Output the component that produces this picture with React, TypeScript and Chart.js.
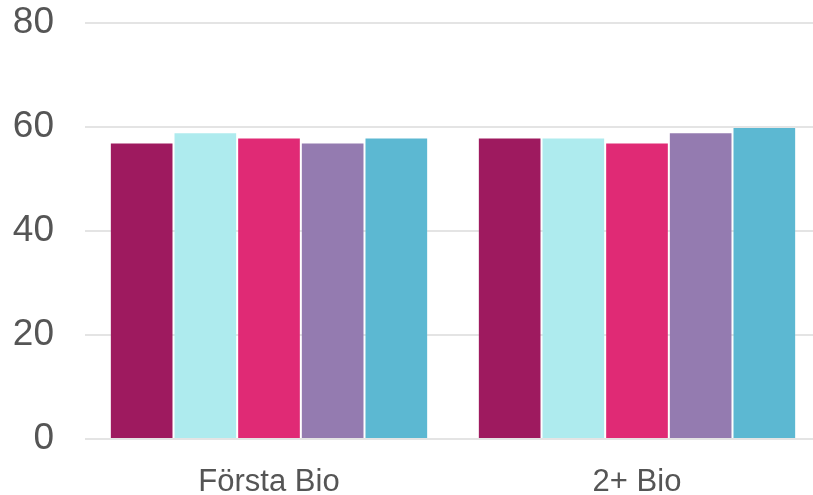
import React, { useEffect, useRef } from "react";
import { Chart, registerables } from "chart.js";

Chart.register(...registerables);

const categories = ["Första Bio", "2+ Bio"];
const series1 = [57, 58];
const series2 = [59, 58];
const series3 = [58, 57];
const series4 = [57, 59];
const series5 = [58, 60];
const seriesValues = [series1, series2, series3, series4, series5];
const seriesColors = ["#9E1A5F", "#AEEBEE", "#E02A75", "#947BB0", "#5CB8D2"];
const yTicks = [0, 20, 40, 60, 80];

export default function App() {
  const ref = useRef<HTMLCanvasElement | null>(null);

  useEffect(() => {
    if (!ref.current) return;
    const chart = new Chart(ref.current, {
      type: "bar",
      data: {
        labels: categories,
        datasets: seriesValues.map((vals, i) => ({
          label: "Serie " + (i + 1),
          data: vals,
          backgroundColor: seriesColors[i],
          borderColor: "rgba(255,255,255,0.1)",
          borderWidth: 1,
          categoryPercentage: 0.865,
          barPercentage: 1,
        })),
      },
      options: {
        animation: false,
        responsive: true,
        maintainAspectRatio: false,
        layout: { padding: { left: 0, right: 0, top: 23, bottom: 0 } },
        plugins: { legend: { display: false }, tooltip: { enabled: false } },
        scales: {
          x: {
            grid: { display: false, drawTicks: false },
            border: { display: false },
            ticks: {
              color: "#555555",
              font: { family: "'Liberation Sans', Arial, sans-serif", size: 31 },
              padding: 25,
            },
            afterFit: (s: any) => {
              s.height = 56;
              s.paddingLeft = 0;
              s.paddingRight = 0;
            },
          },
          y: {
            min: 0,
            max: 80,
            afterBuildTicks: (s: any) => {
              s.ticks = yTicks.map((v) => ({ value: v }));
            },
            grid: { color: "#e4e4e4", lineWidth: 2, drawTicks: false },
            border: { display: false },
            ticks: {
              color: "#555555",
              font: { family: "'Liberation Sans', Arial, sans-serif", size: 37 },
              padding: 31,
            },
            afterFit: (s: any) => {
              s.width = 85;
              s.paddingTop = 0;
              s.paddingBottom = 0;
            },
          },
        },
      },
    });
    return () => chart.destroy();
  }, []);

  return (
    <div style={{ position: "fixed", left: 0, top: 0, width: 813, height: 495, overflow: "hidden", background: "#fff" }}>
      <div style={{ position: "absolute", left: 0, top: 0, width: 821, height: 495 }}>
        <canvas ref={ref} />
      </div>
    </div>
  );
}
